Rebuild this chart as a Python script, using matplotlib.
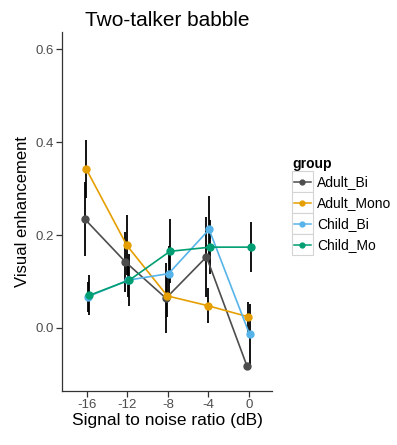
import numpy as np
import matplotlib
matplotlib.use("Agg")
import matplotlib.pyplot as plt
from matplotlib.patches import Rectangle
from matplotlib.lines import Line2D
from matplotlib.legend_handler import HandlerLine2D

plt.rcParams['font.family'] = ['Liberation Sans', 'DejaVu Sans']

snr = [-16, -12, -8, -4, 0]
groups = ['Adult_Bi', 'Adult_Mono', 'Child_Bi', 'Child_Mo']
colors = ['#4d4d4d', '#E69F00', '#56B4E9', '#009E73']

# mean visual enhancement per group
adult_bi = [0.234, 0.142, 0.064, 0.153, -0.082]
adult_mono = [0.342, 0.178, 0.069, 0.048, 0.024]
child_bi = [0.067, 0.103, 0.117, 0.212, -0.014]
child_mo = [0.070, 0.103, 0.165, 0.174, 0.174]

# error bar half widths
adult_bi_err = [0.080, 0.065, 0.075, 0.086, 0.005]
adult_mono_err = [0.062, 0.065, 0.045, 0.037, 0.032]
child_bi_err = [0.032, 0.037, 0.060, 0.073, 0.065]
child_mo_err = [0.043, 0.056, 0.069, 0.058, 0.054]

means = [adult_bi, adult_mono, child_bi, child_mo]
errs = [adult_bi_err, adult_mono_err, child_bi_err, child_mo_err]
dodge = [-0.195, -0.065, 0.065, 0.195]


class BoxedLine(HandlerLine2D):
    # ggplot style key: grey bordered box, line through it, point in the middle
    def create_artists(self, legend, orig_handle, xdescent, ydescent,
                       width, height, fontsize, trans):
        x0, y0 = -xdescent, -ydescent
        yc = y0 + height / 2
        box = Rectangle((x0, y0), width, height, facecolor='white',
                        edgecolor='#d4d4d4', lw=0.8, transform=trans)
        line = Line2D([x0 + 0.1 * width, x0 + 0.9 * width], [yc, yc],
                      color=orig_handle.get_color(), lw=1.1, transform=trans)
        dot = Line2D([x0 + width / 2], [yc], marker='o', markersize=3.5,
                     color=orig_handle.get_color(), lw=0, transform=trans)
        return [box, line, dot]


fig = plt.figure(figsize=(3.97, 4.45), dpi=100)
ax = fig.add_axes([0.156, 0.121, 0.529, 0.807])

x = np.array(snr, dtype=float)
handles = []
for i, g in enumerate(groups):
    xs = x + dodge[i]
    ax.errorbar(xs, means[i], yerr=errs[i], fmt='none', ecolor='black',
                elinewidth=1.3, capsize=0, zorder=2)
    h, = ax.plot(xs, means[i], color=colors[i], lw=1.2, marker='o',
                 markersize=5, zorder=3, label=g)
    handles.append(h)

ax.set_xlim(-18.47, 2.27)
ax.set_ylim(-0.136, 0.637)
ax.set_xticks(snr)
ax.set_xticklabels([str(s) for s in snr])
ax.set_yticks([0.0, 0.2, 0.4, 0.6])
ax.set_yticklabels(['0.0', '0.2', '0.4', '0.6'])

for s in ['top', 'right']:
    ax.spines[s].set_visible(False)
for s in ['left', 'bottom']:
    ax.spines[s].set_color('#333333')
    ax.spines[s].set_linewidth(0.9)
ax.tick_params(direction='out', length=4, width=0.9, color='#333333',
               labelcolor='#4d4d4d', labelsize=9.5, pad=2)

ax.set_title('Two-talker babble', fontsize=15, pad=4)
ax.set_xlabel('Signal to noise ratio (dB)', fontsize=12.5, labelpad=1)
ax.set_ylabel('Visual enhancement', fontsize=12, labelpad=4)

leg = ax.legend(handles=handles, title='group', loc='upper left',
                bbox_to_anchor=(292 / 397, 1 - 157 / 445),
                bbox_transform=fig.transFigure, frameon=False,
                fontsize=10, handlelength=1.51, handleheight=1.95,
                labelspacing=0, handletextpad=0.3, borderpad=0,
                borderaxespad=0, alignment='left',
                handler_map={h: BoxedLine() for h in handles})
leg.get_title().set_fontweight('bold')
leg.get_title().set_fontsize(10)

fig.savefig('out.png', dpi=100)
